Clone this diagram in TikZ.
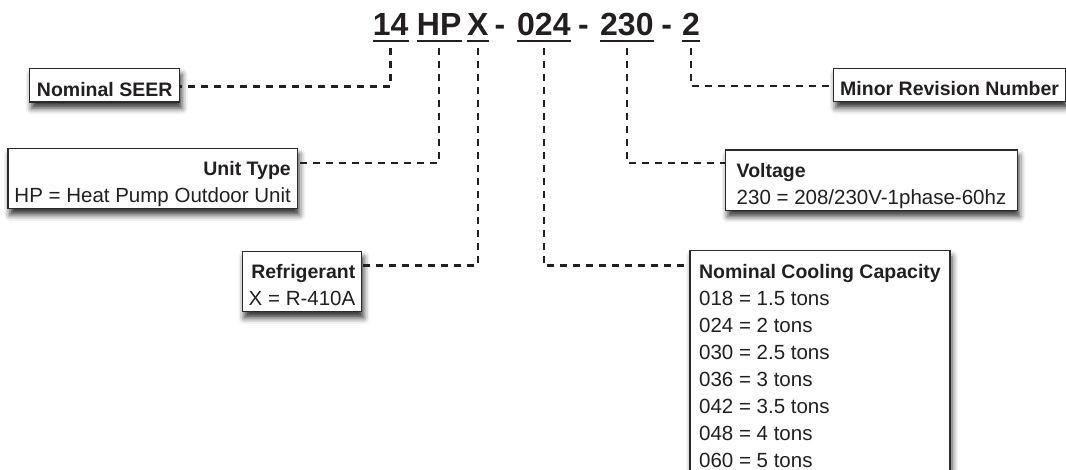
\documentclass[tikz,border=0pt]{standalone}
\usepackage{fontspec}
\setmainfont{Liberation Sans}
\usetikzlibrary{shadows.blur}
\definecolor{ink}{HTML}{231F20}
\definecolor{boxc}{HTML}{2A2A2A}
\newcommand\hd[1]{{\fontsize{19.5}{27}\selectfont\bfseries #1}}
\newcommand\tstr{\rule{0pt}{27.5pt}}
\newcommand\bstr{\rule[-6pt]{0pt}{6pt}}
\begin{document}
\begin{tikzpicture}[x=1pt,y=-1pt,
  title/.style={font=\fontsize{32}{38}\selectfont\bfseries, inner sep=0pt, anchor=base west, text=ink},
  uline/.style={draw=ink, line width=2.8pt},
  conn/.style={draw=ink, line width=2.6pt, dash pattern=on 7pt off 6pt},
  box/.style={draw=boxc, line width=1.3pt, fill=white, inner xsep=5pt, inner ysep=0pt,
    text=ink, font=\fontsize{20.5}{27}\selectfont, anchor=north west,
    blur shadow={shadow xshift=2pt, shadow yshift=-6pt, shadow blur radius=6pt, shadow opacity=80}}]
\useasboundingbox (0,0) rectangle (1066,470);
% title
\node[title] (t14) at (372.7,36) {14};
\node[title] (thp) at (416.7,36) {HP};
\node[title] (tx) at (467,36) {X};
\node[title, anchor=base] (d1) at (500,36) {-};
\node[title] (t024) at (517,36) {024};
\node[title, anchor=base] (d2) at (583.5,36) {-};
\node[title] (t230) at (600,36) {230};
\node[title, anchor=base] (d3) at (666.7,36) {-};
\node[title] (t2) at (682,36) {2};
\foreach \n in {t14,thp,tx,t024,t230,t2}
  \draw[uline] ([yshift=-5pt]\n.base west) -- ([yshift=-5pt]\n.base east);
% boxes
\node[box, minimum width=150pt, align=center] (seer) at (29,68) {\tstr\hd{Nominal SEER}\bstr};
\node[box, minimum width=289.4pt, align=right] (ut) at (7.3,147.7) {\tstr\hd{Unit Type}\\HP = Heat Pump Outdoor Unit\bstr};
\node[box, minimum width=119.3pt, align=right] (ref) at (241.7,250.7) {\tstr\hd{Refrigerant}\\X = R-410A\bstr};
\node[box, minimum width=291.7pt, align=left] (volt) at (725,149.3) {\tstr\hd{Voltage}\\230 = 208/230V-1phase-60hz\bstr};
\node[box, minimum width=260pt, align=left] (cap) at (689.3,250) {\tstr\hd{Nominal Cooling Capacity}\\018 = 1.5 tons\\024 = 2 tons\\030 = 2.5 tons\\036 = 3 tons\\042 = 3.5 tons\\048 = 4 tons\\060 = 5 tons\bstr};
\node[box, minimum width=232pt, align=left] (minor) at (833,67.7) {\tstr\hd{Minor Revision Number}\bstr};
% connectors
\draw[conn] ([yshift=-12pt]t14.base) |- ([yshift=-18.5pt]seer.north east);
\draw[conn] ([yshift=-12pt]thp.base) |- ([yshift=-15.3pt]ut.north east);
\draw[conn] ([yshift=-12pt]tx.base) |- ([yshift=-14.8pt]ref.north east);
\draw[conn] ([yshift=-12pt]t024.base) |- ([yshift=-15.5pt]cap.north west);
\draw[conn] ([yshift=-12pt]t230.base) |- ([yshift=-13.7pt]volt.north west);
\draw[conn] ([yshift=-12pt]t2.base) |- ([yshift=-18.3pt]minor.north west);
\end{tikzpicture}
\end{document}
